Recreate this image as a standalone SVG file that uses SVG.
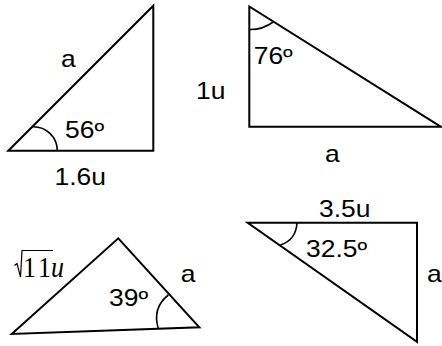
<svg xmlns="http://www.w3.org/2000/svg" width="442" height="346" viewBox="0 0 442 346">
<style>
.s{fill:none;stroke:#000;stroke-width:2;stroke-linejoin:miter}
.arc{fill:none;stroke:#000;stroke-width:1.6}
.t{font-family:"Liberation Sans",Arial,sans-serif;font-size:23px;fill:#000}
.m{font-family:"Liberation Serif","Times New Roman",serif;font-size:26px;fill:#000}
</style>
<rect width="442" height="346" fill="#fff"/>
<g id="tri1">
<polygon class="s" points="8.3,150.7 153.3,5.7 153.3,150.7"/>
<path class="arc" d="M32.3,126.7 A24,24 0 0 1 57.3,150.7"/>
<text class="t" transform="matrix(1.15 0 0 1 61 66.5)">a</text>
<text class="t" transform="matrix(1.15 0 0 1 65 138)">56º</text>
<text class="t" transform="matrix(1.15 0 0 1 54.5 185)">1.6u</text>
</g>
<g id="tri2">
<polygon class="s" points="249.3,6.5 249.3,126.7 440.7,126.7"/>
<path class="arc" d="M249.3,29.5 Q262,30 273.3,22"/>
<text class="t" transform="matrix(1.15 0 0 1 253.7 64)">76º</text>
<text class="t" transform="matrix(1.15 0 0 1 196 99)">1u</text>
<text class="t" transform="matrix(1.15 0 0 1 325 161.7)">a</text>
</g>
<g id="tri3">
<polygon class="s" points="11.7,334 118.3,238.3 199.3,327.3"/>
<path class="arc" d="M168.3,295 Q152,308 158.3,328.5"/>
<text class="t" transform="matrix(1.15 0 0 1 109 306)">39º</text>
<text class="t" transform="matrix(1.15 0 0 1 180.7 281.7)">a</text>
<path fill="none" stroke="#000" stroke-width="1.2" d="M14.5,265.5 L17,263.5 L20.5,277 L22,250.5 L53,250.5"/>
<text class="m" transform="matrix(1 0 0 1.15 23 276.5)">1<tspan dx="2">1</tspan><tspan font-style="italic">u</tspan></text>
</g>
<g id="tri4">
<polygon class="s" points="247.7,222.7 417,222.7 417,341.7"/>
<path class="arc" d="M297,222.7 Q296,240 280.3,245"/>
<text class="t" transform="matrix(1.15 0 0 1 319 217.3)">3.5u</text>
<text class="t" transform="matrix(1.15 0 0 1 306 257.3)">32.5º</text>
<text class="t" transform="matrix(1.15 0 0 1 427 282)">a</text>
</g>
</svg>
